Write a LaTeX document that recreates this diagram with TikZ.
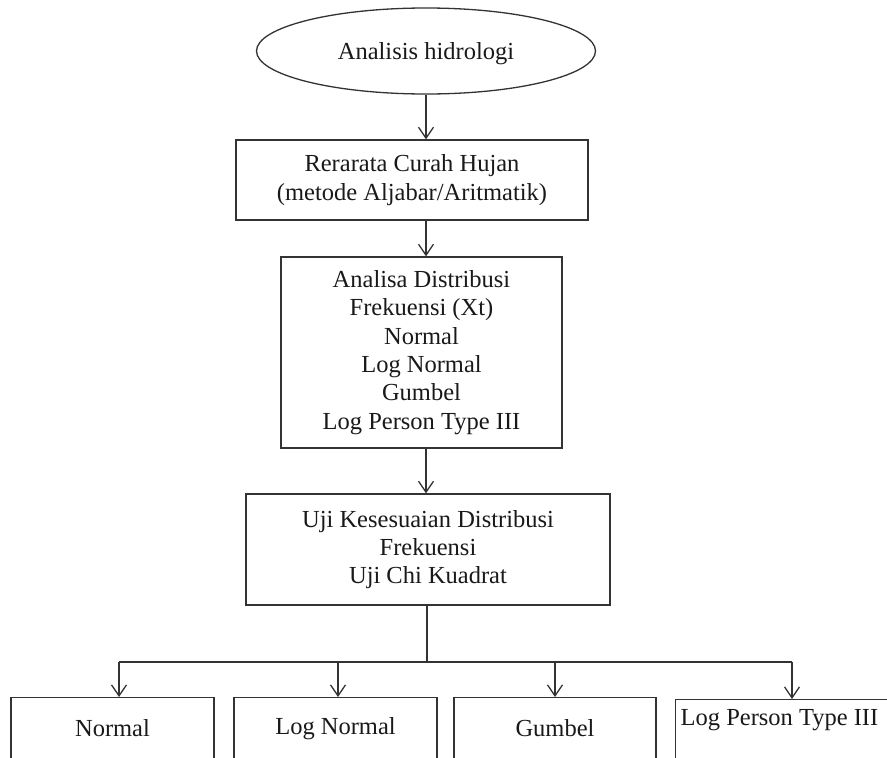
\documentclass[tikz,border=0pt]{standalone}
\usepackage{fontspec}
\setmainfont{Liberation Serif}
\usetikzlibrary{shapes.geometric,arrows.meta}
\begin{document}
\begin{tikzpicture}[x=1pt,y=-1pt,
  font=\fontsize{24.5}{28.3}\selectfont,
  ln/.style={draw=black!80, line width=1.3pt},
  box/.style={ln, rectangle, align=center, inner sep=0pt, text=black!90},
  arr/.style={ln, -{Straight Barb[length=11pt,width=15pt,line width=1.3pt]}},
]
\useasboundingbox (0,0) rectangle (887,758);
\clip (0,0) rectangle (887,758);
% main chain
\node[ln, ellipse, minimum width=339, minimum height=86, inner sep=0pt, text=black!90, text height=22pt] (ell) at (426,51) {Analisis hidrologi};
\node[box, minimum width=352, minimum height=80] (b1) at (412,180) {Rerarata Curah Hujan\\(metode Aljabar/Aritmatik)};
\node[box, minimum width=281, minimum height=191] (b2) at (421.5,352.5) {Analisa Distribusi\\Frekuensi (Xt)\\Normal\\Log Normal\\Gumbel\\Log Person Type III};
\node[box, minimum width=364, minimum height=111] (b3) at (428,549.5) {Uji Kesesuaian Distribusi\\Frekuensi\\Uji Chi Kuadrat};
% bottom row
\node[box, anchor=north, minimum width=203, text height=17pt, text depth=60pt, inner ysep=22pt] (n1) at (112.5,697) {Normal};
\node[box, anchor=north, minimum width=203, text height=17pt, text depth=60pt, inner ysep=20pt] (n2) at (335.5,697) {Log Normal};
\node[box, anchor=north, minimum width=202, text height=17pt, text depth=60pt, inner ysep=22pt] (n3) at (555,697) {Gumbel};
\node[box, anchor=north west, text width=228pt, align=flush left, inner xsep=5pt, text height=17pt, text depth=60pt, inner ysep=9pt] (n4) at (675,699) {\mbox{Log Person Type III}};
% coordinates
\coordinate (ax) at (426,0);
\coordinate (split) at (427,662);
\coordinate (h1) at (119,662);
\coordinate (h2) at (338,662);
\coordinate (h3) at (555,662);
\coordinate (h4) at (792,662);
% connectors
\draw[arr] (ell.south) -- (ell.south |- b1.north);
\draw[arr] (b1.south -| ax) -- (b2.north -| ax);
\draw[arr] (b2.south -| ax) -- (b3.north -| ax);
\draw[ln] (b3.south -| split) -- (split);
\draw[ln] (h1) -- (h4);
\draw[arr] (h1) -- (h1 |- n1.north);
\draw[arr] (h2) -- (h2 |- n2.north);
\draw[arr] (h3) -- (h3 |- n3.north);
\draw[arr] (h4) -- (h4 |- n4.north);
\end{tikzpicture}
\end{document}
